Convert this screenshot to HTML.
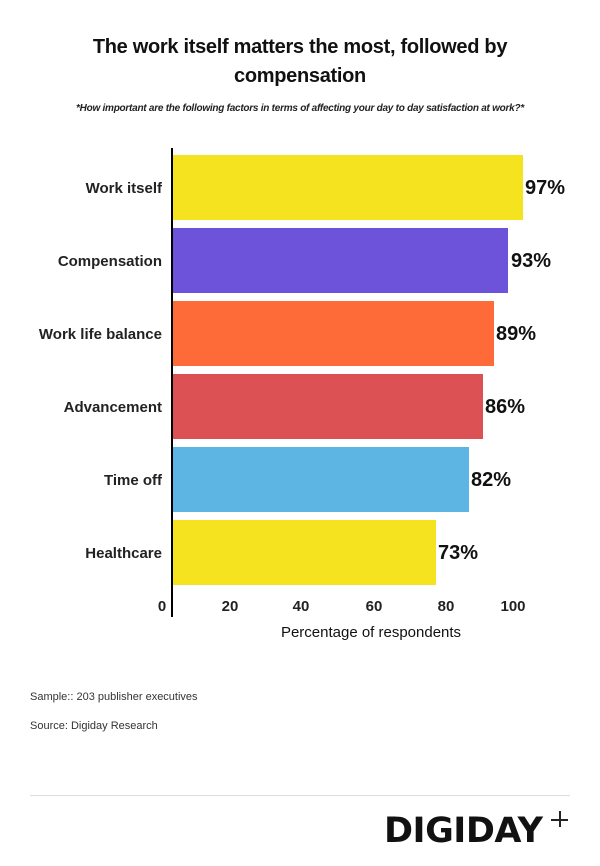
<!DOCTYPE html>
<html><head><style>
body{margin:0;width:600px;height:866px;background:#fff;position:relative;font-family:"Liberation Sans",sans-serif;color:#111;overflow:hidden}
.a{position:absolute}
.t{left:0;width:600px;text-align:center;font-weight:bold;font-size:20px;line-height:29px;top:33px;letter-spacing:-0.3px}
.s{left:0;width:600px;text-align:center;font-style:italic;font-weight:bold;font-size:10px;top:103px;letter-spacing:-0.25px;color:#222}
.lab{right:438px;font-size:15px;height:20px;line-height:20px;text-align:right;white-space:nowrap;font-weight:bold;color:#222}
.bar{left:173px;height:65px}
.v{font-size:20px;font-weight:bold;height:22px;line-height:22px}
.tk{font-size:15px;width:40px;text-align:center;top:598px;font-weight:bold;color:#222}
.f{font-size:11px;color:#333;left:30px}
</style></head><body>
<div class="a t">The work itself matters the most, followed by<br>compensation</div>
<div class="a s">*How important are the following factors in terms of affecting your day to day satisfaction at work?*</div>
<div class="a" style="left:171px;top:148px;width:2px;height:469px;background:#000"></div>

<div class="a bar" style="top:155px;width:350px;background:#f5e31f"></div>
<div class="a bar" style="top:228px;width:335px;background:#6c53d9"></div>
<div class="a bar" style="top:301px;width:321px;background:#ff6a39"></div>
<div class="a bar" style="top:374px;width:310px;background:#dc5254"></div>
<div class="a bar" style="top:447px;width:296px;background:#5db5e4"></div>
<div class="a bar" style="top:520px;width:263px;background:#f5e31f"></div>

<div class="a lab" style="top:179px">Work itself</div>
<div class="a lab" style="top:252px">Compensation</div>
<div class="a lab" style="top:325px">Work life balance</div>
<div class="a lab" style="top:398px">Advancement</div>
<div class="a lab" style="top:471px">Time off</div>
<div class="a lab" style="top:544px">Healthcare</div>

<div class="a v" style="left:525px;top:177px">97%</div>
<div class="a v" style="left:511px;top:250px">93%</div>
<div class="a v" style="left:496px;top:323px">89%</div>
<div class="a v" style="left:485px;top:396px">86%</div>
<div class="a v" style="left:471px;top:469px">82%</div>
<div class="a v" style="left:438px;top:542px">73%</div>

<div class="a tk" style="left:142px">0</div>
<div class="a tk" style="left:210px">20</div>
<div class="a tk" style="left:281px">40</div>
<div class="a tk" style="left:354px">60</div>
<div class="a tk" style="left:426px">80</div>
<div class="a tk" style="left:493px">100</div>
<div class="a" style="left:230px;width:282px;text-align:center;top:624px;font-size:15px">Percentage of respondents</div>

<div class="a f" style="top:691px">Sample:: 203 publisher executives</div>
<div class="a f" style="top:720px">Source: Digiday Research</div>
<div class="a" style="left:30px;top:795px;width:540px;height:1px;background:#ddd"></div>
<div class="a" style="left:384px;top:812px;font-size:35px;font-weight:900;font-family:'DejaVu Sans',sans-serif;letter-spacing:-0.5px;line-height:38px;transform:scaleX(1.0);transform-origin:left">DIGIDAY</div>
<div class="a" style="left:551px;top:819px;width:17px;height:1.5px;background:#222"></div>
<div class="a" style="left:559px;top:811px;width:1.5px;height:16px;background:#222"></div>
</body></html>
